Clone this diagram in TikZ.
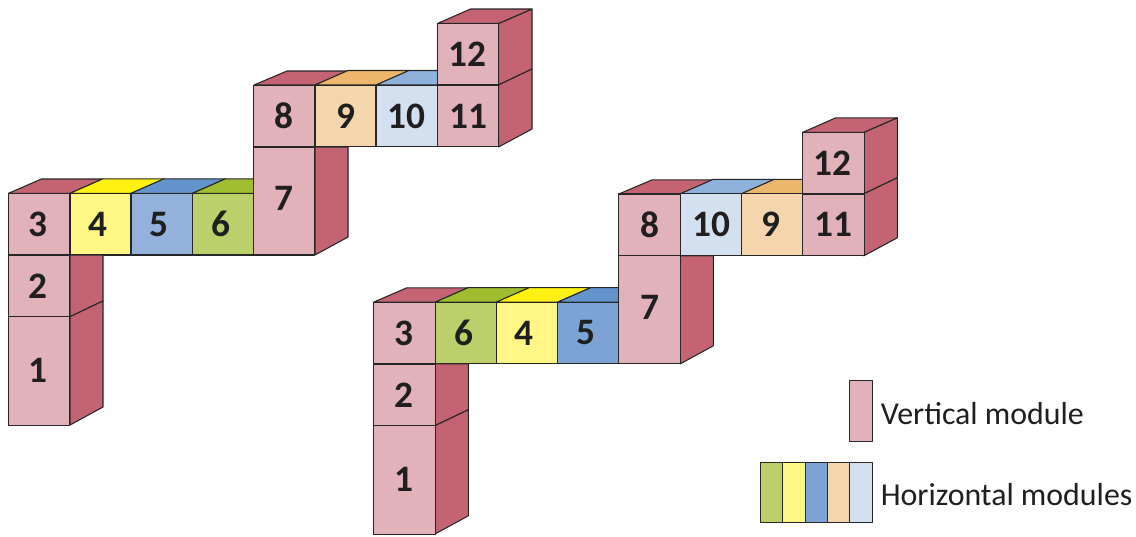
\documentclass[tikz,border=0pt]{standalone}
\usepackage{fontspec}
\setmainfont{Carlito}
\usetikzlibrary{positioning, calc}

\definecolor{pinkfront}{HTML}{E2B2BB}
\definecolor{pinkdark}{HTML}{C46472}
\definecolor{yellowfront}{HTML}{FFF685}
\definecolor{yellowtop}{HTML}{FFF212}
\definecolor{bluefront}{HTML}{93B1DB}
\definecolor{bluefrontb}{HTML}{7BA3D5}
\definecolor{bluetop}{HTML}{6395CC}
\definecolor{greenfront}{HTML}{BBD06A}
\definecolor{greentop}{HTML}{A0BD30}
\definecolor{peachfront}{HTML}{F5D5AC}
\definecolor{peachtop}{HTML}{EDB66C}
\definecolor{skyfront}{HTML}{D2E0F0}
\definecolor{skytop}{HTML}{8FB2DC}

% all the pink parts of one stack
\newcommand{\verticalfaces}{%
    % side faces
    \draw[sideface] (70,255) -- (103,255) -- (103,301) -- (70,316.7) -- cycle;
    \draw[sideface] (70,316.7) -- (103,301) -- (103,407) -- (70,425) -- cycle;
    \draw[sideface] (315,147) -- (348,147) -- (348,237) -- (315,255) -- cycle;
    \draw[sideface] (498.5,23.5) -- (532,9) -- (532,69) -- (498.5,85) -- cycle;
    \draw[sideface] (498.5,85) -- (532,69) -- (532,129) -- (498.5,147) -- cycle;
    % top of 12
    \draw[sideface] (437.5,23.5) -- (470.5,9) -- (532,9) -- (498.5,23.5) -- cycle;
    % front faces
    \node[vmodule] (m3) at (39.2,224.2) {\hspace*{-1.5pt}\raisebox{-1pt}{3}};
    \node[vmodule] (m2) at (39.2,286) {\hspace*{-1.5pt}2};
    \node[vmodule, minimum height=81.4pt] (m1) at (39.2,371) {\hspace*{-1.5pt}\raisebox{1pt}{1}};
    \node[vmodule, minimum height=81pt] (m7) at (284.2,201) {\raisebox{3.5pt}{7}};
    \node[vmodule] (m8) at (284.2,116) {8};
    \node[vmodule] (m11) at (468,116) {11};
    \node[vmodule] (m12) at (468,54.2) {\hspace*{-1pt}12};
}

\begin{document}
\begin{tikzpicture}[
    x=0.75pt, y=-0.75pt,
    % faces
    edge/.style={draw=black!85, line width=0.8pt, line join=round},
    sideface/.style={edge, fill=pinkdark},
    vmodule/.style={edge, fill=pinkfront, minimum width=46.1pt, minimum height=46.2pt,
        inner sep=0pt, font=\fontsize{28}{28}\selectfont\bfseries, text=black!88},
    hmodule/.style={vmodule, fill=#1},
    swatch/.style={edge, fill=#1, minimum width=16.8pt, minimum height=45.4pt, inner sep=0pt},
    legendtext/.style={anchor=west, inner sep=0pt, font=\fontsize{23.9}{24}\selectfont, text=black!88},
]
\useasboundingbox (0,0) rectangle (1136,536);

% ============================================================
% LEFT STACK
% ============================================================
\begin{scope}[name prefix=a-]
    % --- tops behind the horizontal row ---
    \draw[sideface] (8.5,193.3) -- (41.5,179) -- (103,179) -- (70,193.3) -- cycle;
    \draw[sideface] (254,85) -- (287,71) -- (348.5,71) -- (315,85) -- cycle;
    \foreach \xpos/\ypos/\lab/\labkern/\topcol/\frontcol in {
        70/193.3/4/-4/yellowtop/yellowfront, 131/193.3/5/-3.5/bluetop/bluefront, 192.5/193.3/6/-4/greentop/greenfront,
        315/85/9/0/peachtop/peachfront, 376/85/10/0/skytop/skyfront}{
        \draw[edge, fill=\topcol] (\xpos,\ypos) -- (\xpos+33,\ypos-14.5) -- (\xpos+94.5,\ypos-14.5) -- (\xpos+61.5,\ypos) -- cycle;
        \node[hmodule=\frontcol] (m\lab) at (\xpos+30.75,\ypos+30.9) {\hspace*{\labkern pt}\lab};
    }
    \verticalfaces
\end{scope}

% ============================================================
% RIGHT STACK
% ============================================================
\begin{scope}[name prefix=b-, shift={(365.3,108.8)}]
    \draw[sideface] (8.5,193.3) -- (41.5,179) -- (103,179) -- (70,193.3) -- cycle;
    \draw[sideface] (254,85) -- (287,71) -- (348.5,71) -- (315,85) -- cycle;
    \foreach \xpos/\ypos/\lab/\labkern/\topcol/\frontcol in {
        70/193.3/6/-3.5/greentop/greenfront, 131/193.3/4/-4/yellowtop/yellowfront, 192.5/193.3/5/-4/bluetop/bluefrontb,
        315/85/10/0/skytop/skyfront, 376/85/9/-1.5/peachtop/peachfront}{
        \draw[edge, fill=\topcol] (\xpos,\ypos) -- (\xpos+33,\ypos-14.5) -- (\xpos+94.5,\ypos-14.5) -- (\xpos+61.5,\ypos) -- cycle;
        \node[hmodule=\frontcol] (m\lab) at (\xpos+30.75,\ypos+30.9) {\hspace*{\labkern pt}\lab};
    }
    \verticalfaces
\end{scope}

% ============================================================
% LEGEND
% ============================================================
\node[swatch=pinkfront] (keyvert) at (861,411.2) {};
\node[legendtext] (keyverttext) at (880.5,414) {Vertical module};

\foreach \xpos/\keyname/\keycol in {771.7/green/greenfront, 794/yellow/yellowfront, 816.3/blue/bluefrontb,
    838.7/peach/peachfront, 861/sky/skyfront}{
    \node[swatch=\keycol] (key\keyname) at (\xpos,492.3) {};
}
\node[legendtext] (keyhorztext) at (880.5,495) {Horizontal modules};

\end{tikzpicture}
\end{document}
